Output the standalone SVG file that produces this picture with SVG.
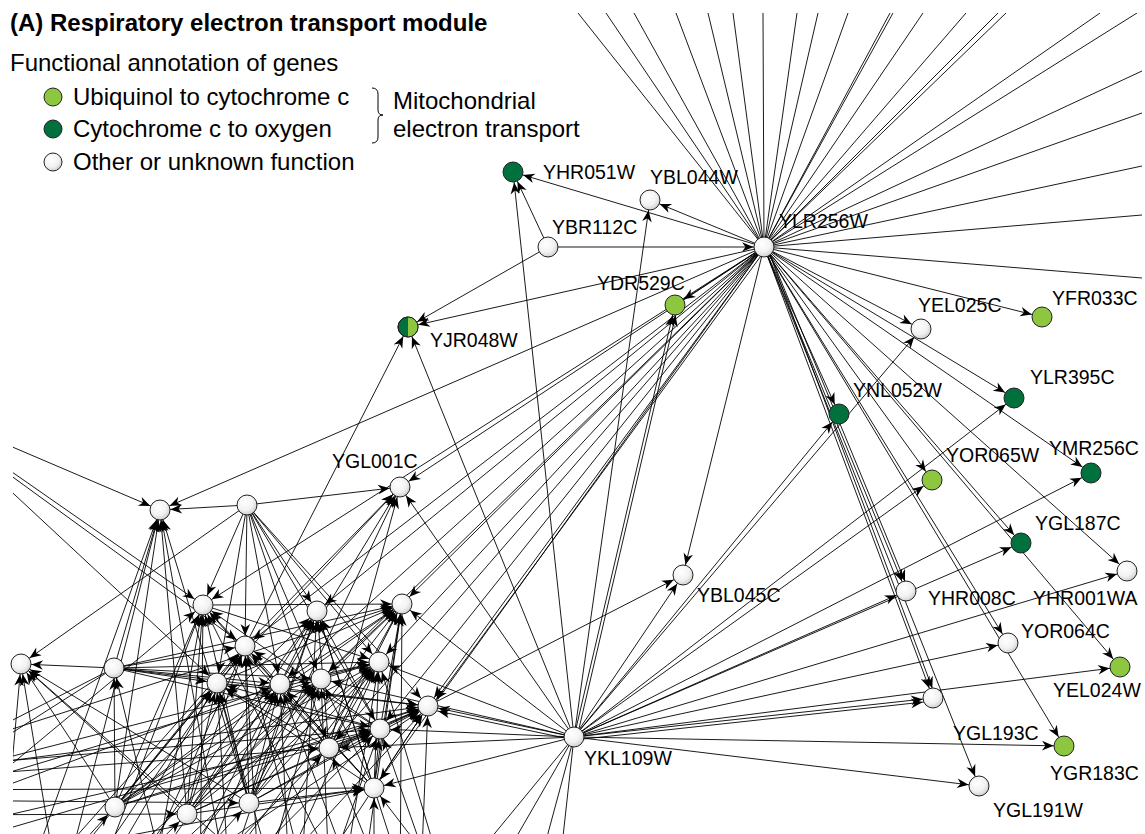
<svg xmlns="http://www.w3.org/2000/svg" width="1145" height="834" viewBox="0 0 1145 834">
<style>
  .title{font-family:"Liberation Sans",Arial,sans-serif;font-weight:bold;font-size:24px;fill:#000}
  .leg{font-family:"Liberation Sans",Arial,sans-serif;font-size:24px;fill:#000}
  .lbl{font-family:"Liberation Sans",Arial,sans-serif;font-size:19.5px;fill:#000}
  .edges line{stroke:#000;stroke-width:0.9;fill:none;marker-end:url(#ah)}
  .edges line.n{marker-end:none}
  .node circle{stroke:#222;stroke-width:1}
  .w{fill:url(#gw)}
  .lg{fill:#8dc63f}
  .dg{fill:#00703c}
</style>
<defs>
  <radialGradient id="gw" cx="0.4" cy="0.35" r="0.75">
    <stop offset="0" stop-color="#ffffff"/>
    <stop offset="0.55" stop-color="#f2f2f2"/>
    <stop offset="1" stop-color="#c4c4c4"/>
  </radialGradient>
  <marker id="ah" markerUnits="userSpaceOnUse" viewBox="-12 -6 24 12" markerWidth="24" markerHeight="12" refX="10.5" refY="0" orient="auto" overflow="visible">
    <path d="M0,0 L-11.5,-4.8 L-8,0 L-11.5,4.8 Z" fill="#000"/>
  </marker>
  <clipPath id="frame"><rect x="13" y="13" width="1129" height="821"/></clipPath>
</defs>
<rect width="1145" height="834" fill="#fff"/>

<!-- legend -->
<g id="legend">
  <text class="title" x="10" y="31">(A) Respiratory electron transport module</text>
  <text class="leg" x="10" y="71">Functional annotation of genes</text>
  <circle cx="53" cy="97" r="9" class="lg" stroke="#222"/>
  <circle cx="53" cy="129" r="9" class="dg" stroke="#222"/>
  <circle cx="53" cy="162" r="9" class="w" stroke="#222"/>
  <text class="leg" x="73" y="105">Ubiquinol to cytochrome c</text>
  <text class="leg" x="73" y="137">Cytochrome c to oxygen</text>
  <text class="leg" x="73" y="170">Other or unknown function</text>
  <path d="M372,88 Q378,88 378,94 L378,110 Q378,115 383,115 Q378,115 378,120 L378,137 Q378,143 372,143" fill="none" stroke="#000" stroke-width="1"/>
  <text class="leg" x="393" y="109">Mitochondrial</text>
  <text class="leg" x="393" y="137">electron transport</text>
</g>

<g id="connectors" class="edges" clip-path="url(#frame)">
  <!-- YLR256W hub -->
  <line x1="764" y1="247" x2="513" y2="172"/>
  <line x1="764" y1="247" x2="650" y2="200"/>
  <line x1="764" y1="247" x2="675" y2="305"/>
  <line x1="764" y1="247" x2="408" y2="327"/>
  <line x1="764" y1="247" x2="921" y2="329"/>
  <line x1="764" y1="247" x2="1042" y2="317"/>
  <line x1="764" y1="247" x2="1014" y2="398"/>
  <line x1="764" y1="247" x2="839" y2="414"/>
  <line x1="764" y1="247" x2="932" y2="480"/>
  <line x1="764" y1="247" x2="1091" y2="473"/>
  <line x1="764" y1="247" x2="1021" y2="543"/>
  <line x1="764" y1="247" x2="1127" y2="571"/>
  <line x1="764" y1="247" x2="906" y2="591"/>
  <line x1="767" y1="247" x2="909" y2="591"/>
  <line x1="764" y1="247" x2="1008" y2="643"/>
  <line x1="764" y1="247" x2="1120" y2="667"/>
  <line x1="764" y1="247" x2="933" y2="698"/>
  <line x1="767" y1="247" x2="936" y2="698"/>
  <line x1="764" y1="247" x2="1064" y2="746"/>
  <line x1="764" y1="247" x2="979" y2="786"/>
  <line x1="764" y1="247" x2="683" y2="575"/>
  <line x1="764" y1="247" x2="400" y2="487"/>
  <line x1="764" y1="247" x2="160" y2="510"/>
  <line x1="764" y1="247" x2="203" y2="605"/>
  <line x1="764" y1="247" x2="317" y2="611"/>
  <line x1="764" y1="247" x2="402" y2="604"/>
  <line x1="764" y1="247" x2="379" y2="662"/>
  <line x1="764" y1="247" x2="321" y2="679"/>
  <line x1="764" y1="247" x2="428" y2="706"/>
  <line x1="766" y1="249" x2="430" y2="708"/>
  <line x1="764" y1="247" x2="380" y2="729"/>
  <line x1="764" y1="247" x2="329" y2="748"/>
  <line x1="764" y1="247" x2="374" y2="788"/>
  <line x1="764" y1="247" x2="280" y2="684"/>
  <line x1="764" y1="247" x2="245" y2="646"/>
  <!-- YLR256W links leaving the frame -->
  <line class="n" x1="764" y1="247" x2="578" y2="13"/>
  <line class="n" x1="764" y1="247" x2="606" y2="13"/>
  <line class="n" x1="764" y1="247" x2="634" y2="13"/>
  <line class="n" x1="764" y1="247" x2="676" y2="13"/>
  <line class="n" x1="764" y1="247" x2="708" y2="13"/>
  <line class="n" x1="764" y1="247" x2="733" y2="13"/>
  <line class="n" x1="764" y1="247" x2="763" y2="13"/>
  <line class="n" x1="764" y1="247" x2="797" y2="13"/>
  <line class="n" x1="764" y1="247" x2="818" y2="13"/>
  <line class="n" x1="764" y1="247" x2="848" y2="13"/>
  <line class="n" x1="764" y1="247" x2="890" y2="13"/>
  <line class="n" x1="764" y1="247" x2="893" y2="13"/>
  <line class="n" x1="764" y1="247" x2="923" y2="13"/>
  <line class="n" x1="764" y1="247" x2="966" y2="13"/>
  <line class="n" x1="764" y1="247" x2="998" y2="13"/>
  <line class="n" x1="764" y1="247" x2="1006" y2="13"/>
  <line class="n" x1="764" y1="247" x2="1100" y2="13"/>
  <line class="n" x1="764" y1="247" x2="1137" y2="13"/>
  <line class="n" x1="764" y1="247" x2="1142" y2="71"/>
  <line class="n" x1="764" y1="247" x2="1142" y2="113"/>
  <line class="n" x1="764" y1="247" x2="1142" y2="166"/>
  <line class="n" x1="764" y1="247" x2="1142" y2="215"/>
  <line class="n" x1="764" y1="247" x2="1142" y2="278"/>
  <!-- YBR112C -->
  <line x1="548" y1="247" x2="764" y2="247"/>
  <line x1="548" y1="247" x2="513" y2="172"/>
  <line x1="548" y1="247" x2="408" y2="327"/>
  <!-- YKL109W hub -->
  <line x1="574" y1="737" x2="513" y2="172"/>
  <line x1="574" y1="737" x2="650" y2="200"/>
  <line x1="574" y1="737" x2="675" y2="305"/>
  <line x1="577" y1="737" x2="678" y2="305"/>
  <line x1="574" y1="737" x2="408" y2="327"/>
  <line x1="574" y1="737" x2="400" y2="487"/>
  <line x1="574" y1="737" x2="402" y2="604"/>
  <line x1="574" y1="737" x2="379" y2="662"/>
  <line x1="574" y1="737" x2="428" y2="706"/>
  <line x1="574" y1="740" x2="428" y2="709"/>
  <line x1="574" y1="737" x2="380" y2="729"/>
  <line x1="574" y1="737" x2="374" y2="788"/>
  <line x1="574" y1="737" x2="329" y2="748"/>
  <line x1="574" y1="737" x2="321" y2="679"/>
  <line x1="574" y1="737" x2="683" y2="575"/>
  <line x1="574" y1="737" x2="839" y2="414"/>
  <line x1="574" y1="737" x2="921" y2="329"/>
  <line x1="574" y1="737" x2="932" y2="480"/>
  <line x1="574" y1="737" x2="1014" y2="398"/>
  <line x1="574" y1="737" x2="1091" y2="473"/>
  <line x1="574" y1="737" x2="1021" y2="543"/>
  <line x1="574" y1="737" x2="906" y2="591"/>
  <line x1="574" y1="737" x2="1127" y2="571"/>
  <line x1="574" y1="737" x2="1008" y2="643"/>
  <line x1="574" y1="737" x2="1120" y2="667"/>
  <line x1="574" y1="737" x2="933" y2="698"/>
  <line x1="574" y1="740" x2="933" y2="701"/>
  <line x1="574" y1="737" x2="1064" y2="746"/>
  <line x1="574" y1="737" x2="979" y2="786"/>
  <line class="n" x1="574" y1="737" x2="440" y2="900"/>
  <line class="n" x1="574" y1="737" x2="480" y2="900"/>
  <line class="n" x1="574" y1="737" x2="530" y2="900"/>
  <line class="n" x1="574" y1="737" x2="556" y2="900"/>
  <line x1="428" y1="706" x2="683" y2="575"/>
  <!-- left cluster -->
  <line x1="247" y1="505" x2="160" y2="510"/>
  <line x1="247" y1="505" x2="400" y2="487"/>
  <line x1="247" y1="505" x2="21" y2="664"/>
  <line x1="247" y1="505" x2="203" y2="605"/>
  <line x1="247" y1="505" x2="245" y2="646"/>
  <line x1="247" y1="505" x2="217" y2="683"/>
  <line x1="247" y1="505" x2="280" y2="684"/>
  <line x1="247" y1="505" x2="321" y2="679"/>
  <line x1="247" y1="505" x2="317" y2="611"/>
  <line x1="247" y1="505" x2="379" y2="662"/>
  <line x1="247" y1="505" x2="428" y2="706"/>
  <line x1="247" y1="505" x2="380" y2="729"/>
  <line x1="247" y1="505" x2="329" y2="748"/>
  <line x1="114" y1="668" x2="21" y2="664"/>
  <line x1="114" y1="668" x2="160" y2="510"/>
  <line x1="114" y1="668" x2="217" y2="683"/>
  <line x1="114" y1="668" x2="280" y2="684"/>
  <line x1="114" y1="668" x2="321" y2="679"/>
  <line x1="114" y1="668" x2="379" y2="662"/>
  <line x1="114" y1="668" x2="428" y2="706"/>
  <line x1="114" y1="668" x2="380" y2="729"/>
  <line x1="114" y1="668" x2="245" y2="646"/>
  <line x1="114" y1="668" x2="402" y2="604"/>
  <line x1="115" y1="807" x2="114" y2="668"/>
  <line x1="115" y1="807" x2="21" y2="664"/>
  <line x1="115" y1="807" x2="160" y2="510"/>
  <line x1="115" y1="807" x2="203" y2="605"/>
  <line x1="115" y1="807" x2="245" y2="646"/>
  <line x1="115" y1="807" x2="217" y2="683"/>
  <line x1="115" y1="807" x2="280" y2="684"/>
  <line x1="115" y1="807" x2="321" y2="679"/>
  <line x1="115" y1="807" x2="317" y2="611"/>
  <line x1="115" y1="807" x2="379" y2="662"/>
  <line x1="115" y1="807" x2="402" y2="604"/>
  <line x1="115" y1="807" x2="428" y2="706"/>
  <line x1="115" y1="807" x2="380" y2="729"/>
  <line x1="187" y1="814" x2="21" y2="664"/>
  <line x1="187" y1="814" x2="160" y2="510"/>
  <line x1="187" y1="814" x2="203" y2="605"/>
  <line x1="187" y1="814" x2="245" y2="646"/>
  <line x1="187" y1="814" x2="217" y2="683"/>
  <line x1="187" y1="814" x2="280" y2="684"/>
  <line x1="187" y1="814" x2="321" y2="679"/>
  <line x1="187" y1="814" x2="317" y2="611"/>
  <line x1="187" y1="814" x2="379" y2="662"/>
  <line x1="187" y1="814" x2="402" y2="604"/>
  <line x1="187" y1="814" x2="428" y2="706"/>
  <line x1="187" y1="814" x2="380" y2="729"/>
  <line x1="187" y1="814" x2="374" y2="788"/>
  <line x1="249" y1="803" x2="21" y2="664"/>
  <line x1="249" y1="803" x2="160" y2="510"/>
  <line x1="249" y1="803" x2="203" y2="605"/>
  <line x1="249" y1="803" x2="245" y2="646"/>
  <line x1="249" y1="803" x2="217" y2="683"/>
  <line x1="249" y1="803" x2="280" y2="684"/>
  <line x1="249" y1="803" x2="321" y2="679"/>
  <line x1="249" y1="803" x2="317" y2="611"/>
  <line x1="249" y1="803" x2="379" y2="662"/>
  <line x1="249" y1="803" x2="402" y2="604"/>
  <line x1="249" y1="803" x2="428" y2="706"/>
  <line x1="249" y1="803" x2="380" y2="729"/>
  <line x1="249" y1="803" x2="374" y2="788"/>
  <line x1="249" y1="803" x2="400" y2="487"/>
  <line x1="329" y1="748" x2="203" y2="605"/>
  <line x1="329" y1="748" x2="245" y2="646"/>
  <line x1="329" y1="748" x2="317" y2="611"/>
  <line x1="329" y1="748" x2="402" y2="604"/>
  <line x1="329" y1="748" x2="379" y2="662"/>
  <line x1="329" y1="748" x2="428" y2="706"/>
  <line x1="329" y1="748" x2="380" y2="729"/>
  <line x1="329" y1="748" x2="400" y2="487"/>
  <line x1="329" y1="748" x2="217" y2="683"/>
  <line x1="374" y1="788" x2="203" y2="605"/>
  <line x1="374" y1="788" x2="245" y2="646"/>
  <line x1="374" y1="788" x2="217" y2="683"/>
  <line x1="374" y1="788" x2="321" y2="679"/>
  <line x1="374" y1="788" x2="317" y2="611"/>
  <line x1="374" y1="788" x2="402" y2="604"/>
  <line x1="374" y1="788" x2="379" y2="662"/>
  <line x1="374" y1="788" x2="428" y2="706"/>
  <line x1="374" y1="788" x2="380" y2="729"/>
  <line x1="374" y1="788" x2="280" y2="684"/>
  <line x1="380" y1="729" x2="203" y2="605"/>
  <line x1="380" y1="729" x2="245" y2="646"/>
  <line x1="380" y1="729" x2="317" y2="611"/>
  <line x1="380" y1="729" x2="402" y2="604"/>
  <line x1="380" y1="729" x2="428" y2="706"/>
  <line x1="380" y1="729" x2="217" y2="683"/>
  <line x1="280" y1="684" x2="402" y2="604"/>
  <line x1="280" y1="684" x2="400" y2="487"/>
  <line x1="280" y1="684" x2="379" y2="662"/>
  <line x1="217" y1="683" x2="402" y2="604"/>
  <line x1="217" y1="683" x2="428" y2="706"/>
  <line x1="217" y1="683" x2="400" y2="487"/>
  <line x1="321" y1="679" x2="402" y2="604"/>
  <line x1="321" y1="679" x2="379" y2="662"/>
  <line x1="245" y1="646" x2="408" y2="327"/>
  <line x1="245" y1="646" x2="400" y2="487"/>
  <line x1="203" y1="605" x2="402" y2="604"/>
  <line x1="203" y1="605" x2="379" y2="662"/>
  <!-- links entering from outside the frame -->
  <line x1="-100" y1="399" x2="160" y2="510"/>
  <line x1="-100" y1="394" x2="203" y2="605"/>
  <line x1="-100" y1="395" x2="245" y2="646"/>
  <line x1="-100" y1="388" x2="217" y2="683"/>
  <line class="n" x1="114" y1="668" x2="-100" y2="778"/>
  <line class="n" x1="114" y1="668" x2="-100" y2="804"/>
  <line x1="-100" y1="857" x2="203" y2="605"/>
  <line x1="-100" y1="770" x2="380" y2="729"/>
  <line x1="-100" y1="775" x2="428" y2="706"/>
  <line x1="-100" y1="790" x2="374" y2="788"/>
  <line x1="-100" y1="780" x2="329" y2="748"/>
  <line x1="-100" y1="800" x2="249" y2="803"/>
  <line x1="-100" y1="840" x2="380" y2="729"/>
  <line x1="-100" y1="860" x2="428" y2="706"/>
  <line x1="-100" y1="815" x2="187" y2="814"/>
  <line x1="-100" y1="765" x2="402" y2="604"/>
  <line x1="-100" y1="785" x2="379" y2="662"/>
  <line x1="-100" y1="805" x2="321" y2="679"/>
  <line x1="-100" y1="825" x2="280" y2="684"/>
  <line x1="-100" y1="880" x2="374" y2="788"/>
  <line x1="60" y1="900" x2="21" y2="664"/>
  <line x1="60" y1="900" x2="160" y2="510"/>
  <line x1="90" y1="900" x2="203" y2="605"/>
  <line x1="90" y1="900" x2="217" y2="683"/>
  <line x1="130" y1="900" x2="245" y2="646"/>
  <line x1="130" y1="900" x2="280" y2="684"/>
  <line x1="150" y1="900" x2="321" y2="679"/>
  <line x1="170" y1="900" x2="317" y2="611"/>
  <line x1="200" y1="900" x2="379" y2="662"/>
  <line x1="200" y1="900" x2="203" y2="605"/>
  <line x1="230" y1="900" x2="217" y2="683"/>
  <line x1="260" y1="900" x2="245" y2="646"/>
  <line x1="260" y1="900" x2="321" y2="679"/>
  <line x1="290" y1="900" x2="280" y2="684"/>
  <line x1="300" y1="900" x2="428" y2="706"/>
  <line x1="320" y1="900" x2="380" y2="729"/>
  <line x1="340" y1="900" x2="379" y2="662"/>
  <line x1="360" y1="900" x2="402" y2="604"/>
  <line x1="374" y1="900" x2="374" y2="788"/>
  <line x1="390" y1="900" x2="329" y2="748"/>
  <line x1="420" y1="900" x2="428" y2="706"/>
  <line x1="440" y1="900" x2="380" y2="729"/>
  <line x1="300" y1="900" x2="317" y2="611"/>
  <line x1="30" y1="900" x2="115" y2="807"/>
  <line x1="100" y1="900" x2="187" y2="814"/>
  <line x1="160" y1="900" x2="249" y2="803"/>
  <line x1="40" y1="900" x2="217" y2="683"/>
  <line x1="20" y1="900" x2="245" y2="646"/>
  <line x1="110" y1="900" x2="317" y2="611"/>
  <line x1="180" y1="900" x2="329" y2="748"/>
  <line x1="240" y1="900" x2="402" y2="604"/>
  <line x1="0" y1="900" x2="21" y2="664"/>
  <line x1="20" y1="900" x2="160" y2="510"/>
  <line x1="70" y1="900" x2="245" y2="646"/>
  <line x1="80" y1="900" x2="321" y2="679"/>
  <line x1="120" y1="900" x2="379" y2="662"/>
  <line x1="140" y1="900" x2="428" y2="706"/>
  <line x1="150" y1="900" x2="203" y2="605"/>
  <line x1="190" y1="900" x2="280" y2="684"/>
  <line x1="210" y1="900" x2="380" y2="729"/>
  <line x1="220" y1="900" x2="317" y2="611"/>
  <line x1="250" y1="900" x2="428" y2="706"/>
  <line x1="270" y1="900" x2="379" y2="662"/>
  <line x1="280" y1="900" x2="217" y2="683"/>
  <line x1="310" y1="900" x2="245" y2="646"/>
  <line x1="330" y1="900" x2="321" y2="679"/>
  <line x1="350" y1="900" x2="203" y2="605"/>
  <line x1="360" y1="900" x2="280" y2="684"/>
  <line x1="400" y1="900" x2="402" y2="604"/>
  <line x1="410" y1="900" x2="317" y2="611"/>
  <line x1="450" y1="900" x2="379" y2="662"/>
  <line x1="460" y1="900" x2="374" y2="788"/>
  <line x1="170" y1="900" x2="114" y2="668"/>
  <line x1="230" y1="900" x2="160" y2="510"/>
  <line x1="290" y1="900" x2="21" y2="664"/>
</g>

<!-- nodes -->
<g id="n-YHR051W" class="node"><circle cx="513" cy="172" r="10" class="dg"/><text class="lbl" x="543" y="179">YHR051W</text></g>
<g id="n-YBL044W" class="node"><circle cx="650" cy="200" r="10" class="w"/><text class="lbl" x="650" y="184">YBL044W</text></g>
<g id="n-YBR112C" class="node"><circle cx="548" cy="247" r="10" class="w"/><text class="lbl" x="552" y="234">YBR112C</text></g>
<g id="n-YLR256W" class="node"><circle cx="764" cy="247" r="10" class="w"/><text class="lbl" x="779" y="228">YLR256W</text></g>
<g id="n-YDR529C" class="node"><circle cx="675" cy="305" r="10" class="lg"/><text class="lbl" x="597" y="290">YDR529C</text></g>
<g id="n-YJR048W" class="node"><circle cx="408" cy="327" r="10" class="dg" stroke="none"/><path d="M408,317 A10,10 0 0 1 408,337 Z" class="lg"/><circle cx="408" cy="327" r="10" fill="none"/><text class="lbl" x="430" y="347">YJR048W</text></g>
<g id="n-YEL025C" class="node"><circle cx="921" cy="329" r="10" class="w"/><text class="lbl" x="918" y="312">YEL025C</text></g>
<g id="n-YFR033C" class="node"><circle cx="1042" cy="317" r="10" class="lg"/><text class="lbl" x="1052" y="305">YFR033C</text></g>
<g id="n-YLR395C" class="node"><circle cx="1014" cy="398" r="10" class="dg"/><text class="lbl" x="1030" y="384">YLR395C</text></g>
<g id="n-YNL052W" class="node"><circle cx="839" cy="414" r="10" class="dg"/><text class="lbl" x="853" y="397">YNL052W</text></g>
<g id="n-YOR065W" class="node"><circle cx="932" cy="480" r="10" class="lg"/><text class="lbl" x="946" y="462">YOR065W</text></g>
<g id="n-YMR256C" class="node"><circle cx="1091" cy="473" r="10" class="dg"/><text class="lbl" x="1049" y="455">YMR256C</text></g>
<g id="n-YGL001C" class="node"><circle cx="400" cy="487" r="10" class="w"/><text class="lbl" x="332" y="468">YGL001C</text></g>
<g id="n-YGL187C" class="node"><circle cx="1021" cy="543" r="10" class="dg"/><text class="lbl" x="1035" y="530">YGL187C</text></g>
<g id="n-YBL045C" class="node"><circle cx="683" cy="575" r="10" class="w"/><text class="lbl" x="697" y="602">YBL045C</text></g>
<g id="n-YHR008C" class="node"><circle cx="906" cy="591" r="10" class="w"/><text class="lbl" x="928" y="605">YHR008C</text></g>
<g id="n-YHR001WA" class="node"><circle cx="1127" cy="571" r="10" class="w"/><text class="lbl" x="1033" y="605">YHR001WA</text></g>
<g id="n-YOR064C" class="node"><circle cx="1008" cy="643" r="10" class="w"/><text class="lbl" x="1021" y="638">YOR064C</text></g>
<g id="n-YEL024W" class="node"><circle cx="1120" cy="667" r="10" class="lg"/><text class="lbl" x="1053" y="697">YEL024W</text></g>
<g id="n-YGL193C" class="node"><circle cx="933" cy="698" r="10" class="w"/><text class="lbl" x="953" y="740">YGL193C</text></g>
<g id="n-YKL109W" class="node"><circle cx="574" cy="737" r="10" class="w"/><text class="lbl" x="584" y="765">YKL109W</text></g>
<g id="n-YGR183C" class="node"><circle cx="1064" cy="746" r="10" class="lg"/><text class="lbl" x="1050" y="780">YGR183C</text></g>
<g id="n-YGL191W" class="node"><circle cx="979" cy="786" r="10" class="w"/><text class="lbl" x="993" y="817">YGL191W</text></g>

<!-- unlabelled cluster genes -->
<g id="n-c1" class="node"><circle cx="160" cy="510" r="10" class="w"/></g>
<g id="n-c2" class="node"><circle cx="247" cy="505" r="10" class="w"/></g>
<g id="n-c3" class="node"><circle cx="203" cy="605" r="10" class="w"/></g>
<g id="n-c4" class="node"><circle cx="317" cy="611" r="10" class="w"/></g>
<g id="n-c5" class="node"><circle cx="402" cy="604" r="10" class="w"/></g>
<g id="n-c6" class="node"><circle cx="245" cy="646" r="10" class="w"/></g>
<g id="n-c7" class="node"><circle cx="21" cy="664" r="10" class="w"/></g>
<g id="n-c8" class="node"><circle cx="114" cy="668" r="10" class="w"/></g>
<g id="n-c9" class="node"><circle cx="379" cy="662" r="10" class="w"/></g>
<g id="n-c10" class="node"><circle cx="217" cy="683" r="10" class="w"/></g>
<g id="n-c11" class="node"><circle cx="280" cy="684" r="10" class="w"/></g>
<g id="n-c12" class="node"><circle cx="321" cy="679" r="10" class="w"/></g>
<g id="n-c13" class="node"><circle cx="428" cy="706" r="10" class="w"/></g>
<g id="n-c14" class="node"><circle cx="380" cy="729" r="10" class="w"/></g>
<g id="n-c15" class="node"><circle cx="329" cy="748" r="10" class="w"/></g>
<g id="n-c16" class="node"><circle cx="374" cy="788" r="10" class="w"/></g>
<g id="n-c17" class="node"><circle cx="115" cy="807" r="10" class="w"/></g>
<g id="n-c18" class="node"><circle cx="187" cy="814" r="10" class="w"/></g>
<g id="n-c19" class="node"><circle cx="249" cy="803" r="10" class="w"/></g>
</svg>
